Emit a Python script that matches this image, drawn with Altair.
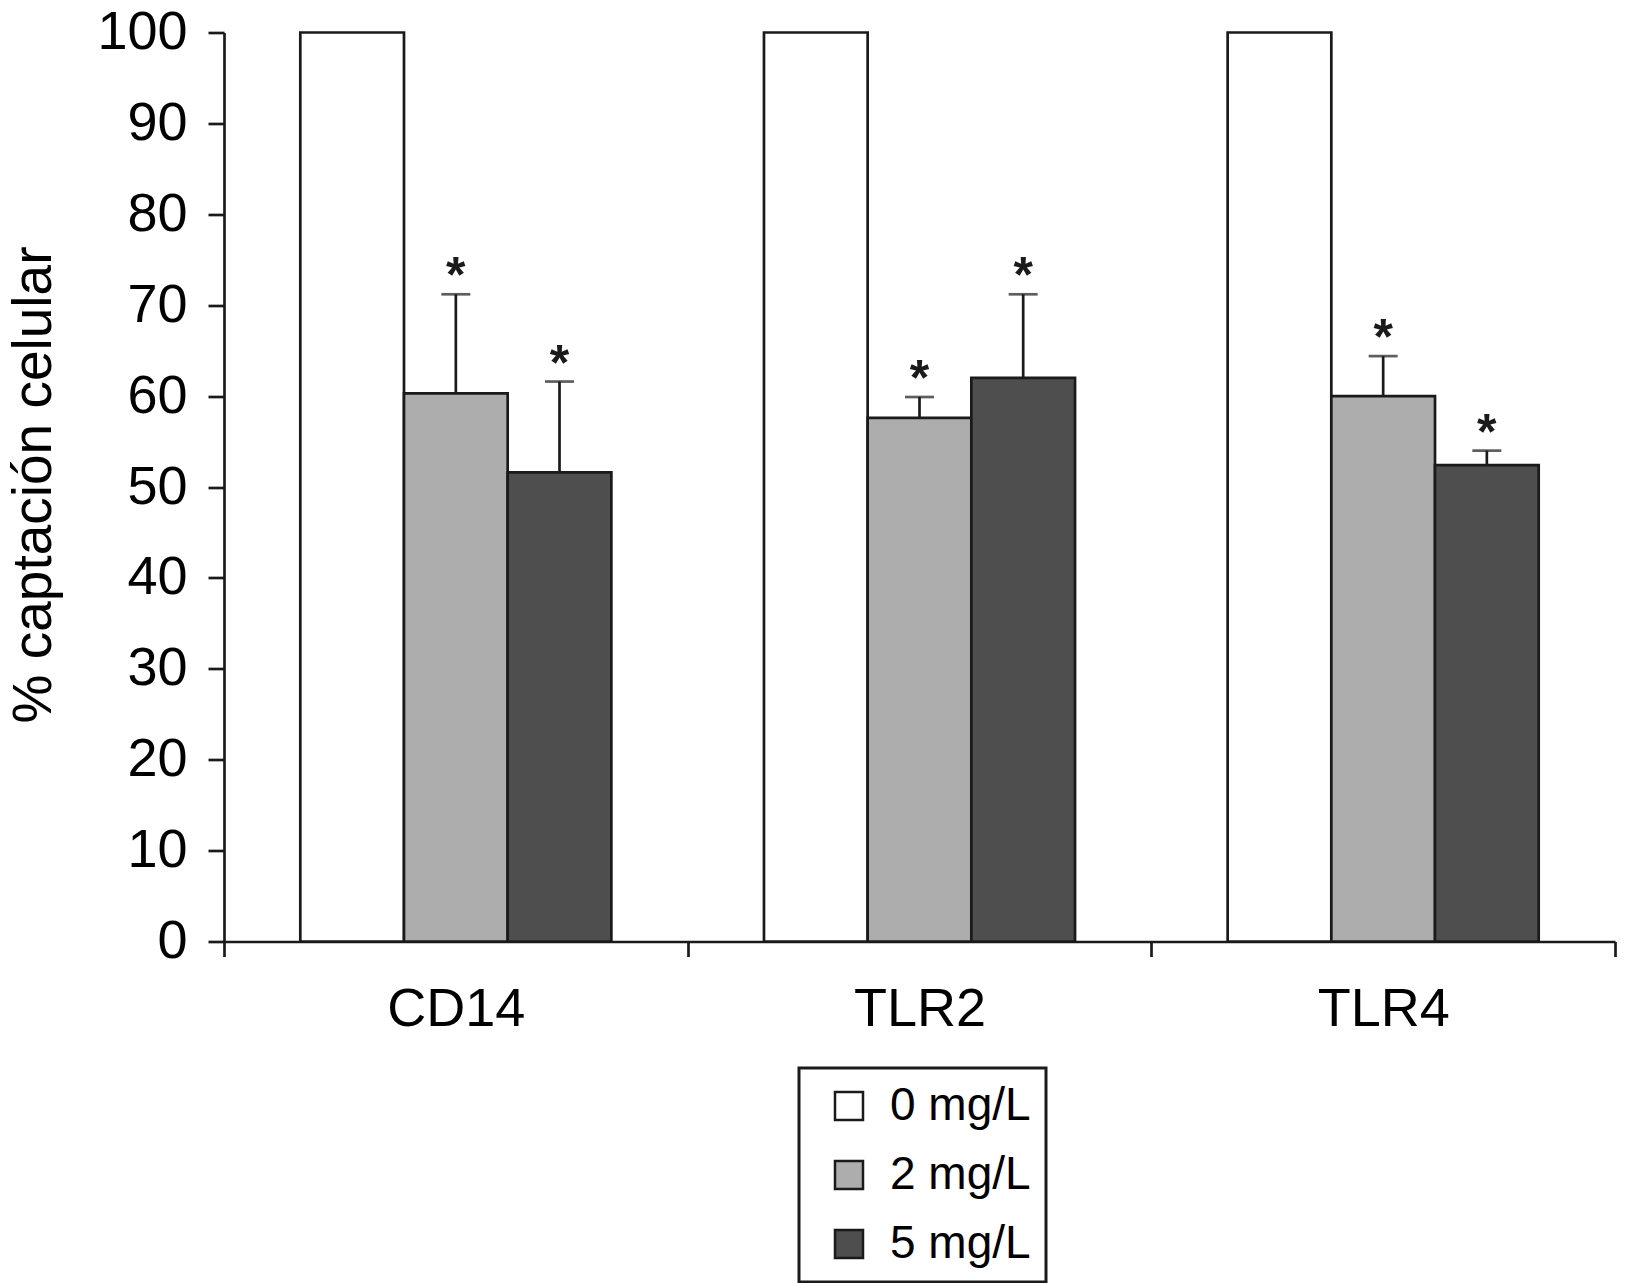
import altair as alt
import pandas as pd

receptors = ["CD14", "TLR2", "TLR4"]
doses = ["0 mg/L", "2 mg/L", "5 mg/L"]
mean_0 = [100.0, 100.0, 100.0]
mean_2 = [60.3, 57.6, 60.0]
mean_5 = [51.6, 62.0, 52.4]
sd_0 = [0.0, 0.0, 0.0]
sd_2 = [10.9, 2.3, 4.4]
sd_5 = [10.0, 9.2, 1.6]
sig_0 = ["", "", ""]
sig_2 = ["*", "*", "*"]
sig_5 = ["*", "*", "*"]
colors = ["#ffffff", "#adadad", "#4e4e4e"]

rows = []
for dose, means, sds, sigs in zip(doses, [mean_0, mean_2, mean_5], [sd_0, sd_2, sd_5], [sig_0, sig_2, sig_5]):
    for r, m, s, g in zip(receptors, means, sds, sigs):
        rows.append({"receptor": r, "dose": dose, "mean": m, "sd": s, "sig": g})
df = pd.DataFrame(rows)

INK = "#1a1a1a"
FONT = "Liberation Sans"

x_enc = alt.X(
    "receptor:N",
    sort=receptors,
    scale=alt.Scale(domain=receptors, paddingInner=0, paddingOuter=0),
    axis=alt.Axis(
        title=None, labelAngle=0, tickBand="extent", tickSize=15, labelPadding=26,
        labelFontSize=54, labelBaseline="top", labelColor="black",
        domainColor=INK, tickColor=INK, domainWidth=2.7, tickWidth=2.7, grid=False,
    ),
)
xo_enc = alt.XOffset("dose:N", sort=doses, scale=alt.Scale(domain=doses, paddingInner=0, paddingOuter=0.736))

y_axis = alt.Axis(
    title="% captación celular", values=list(range(0, 101, 10)), tickSize=16, labelPadding=21,
    labelFontSize=54, labelColor="black", titleFontSize=55, titleFontWeight="normal",
    titleColor="black", titleX=-174, titleY=452, titleAngle=270, titleBaseline="alphabetic",
    titleAlign="center", grid=False, domainColor=INK, tickColor=INK, domainWidth=2.7, tickWidth=2.7,
)
y_scale = alt.Scale(domain=[0, 100], nice=False)

base = alt.Chart(df)

bars = base.mark_bar(stroke=INK, strokeWidth=2.7).encode(
    x=x_enc,
    xOffset=xo_enc,
    y=alt.Y("mean:Q", scale=y_scale, axis=y_axis),
    color=alt.Color(
        "dose:N", sort=doses, scale=alt.Scale(domain=doses, range=colors),
        legend=alt.Legend(
            title=None, orient="none", legendX=575, legendY=1035.5, symbolType="square",
            symbolSize=784, symbolStrokeColor=INK, symbolStrokeWidth=2.5, labelFontSize=46,
            labelColor="black", labelOffset=18, symbolOffset=12, padding=15, rowPadding=23,
            strokeColor=INK,
        ),
    ),
)

err = base.transform_filter("datum.sd > 0").transform_calculate(top="datum.mean + datum.sd")

rules = err.mark_rule(color=INK, strokeWidth=2.7).encode(
    x=x_enc, xOffset=xo_enc,
    y=alt.Y("mean:Q", scale=y_scale, axis=y_axis),
    y2="top:Q",
)
caps = err.mark_tick(color=INK, thickness=2.7, size=29).encode(
    x=x_enc, xOffset=xo_enc,
    y=alt.Y("top:Q", scale=y_scale, axis=y_axis),
)
stars = err.mark_text(fontSize=50, fontWeight="bold", baseline="alphabetic", dy=-2, color=INK).encode(
    x=x_enc, xOffset=xo_enc,
    y=alt.Y("top:Q", scale=y_scale, axis=y_axis),
    text="sig:N",
)

chart = (
    alt.layer(bars, rules, caps, stars)
    .properties(
        width=1391, height=909,
        padding={"left": 216, "top": 24.5, "right": 2, "bottom": 341.5},
        autosize=alt.AutoSizeParams(type="none"),
    )
    .configure(font=FONT)
    .configure_view(stroke=None)
    .configure_legend(strokeWidth=3)
)

chart.save("out.html", embed_options={"renderer": "svg", "actions": False})
